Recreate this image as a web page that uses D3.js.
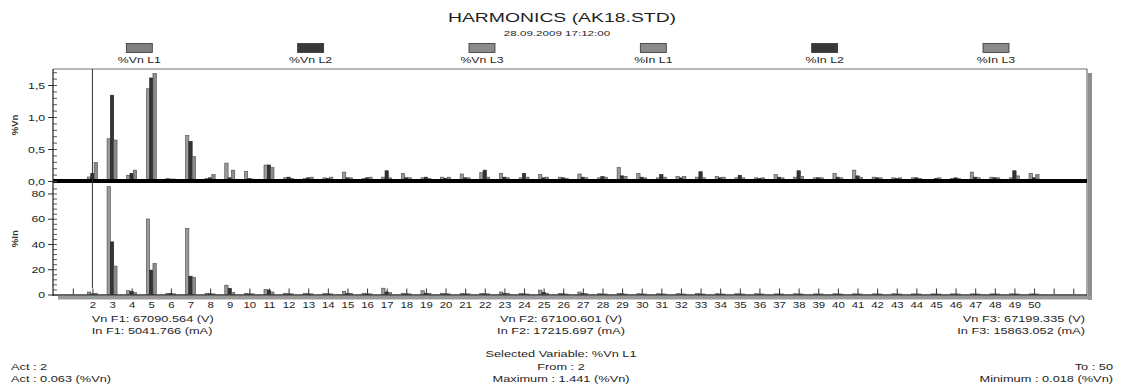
<!DOCTYPE html>
<html>
<head>
<meta charset="utf-8">
<script src="https://cdn.jsdelivr.net/npm/d3@7"></script>
<style>
  body { margin: 0; background: #fff; }
  svg { display: block; font-family: "Liberation Sans", Arial, sans-serif; }
</style>
</head>
<body>
<div class="chart"></div>
<script>
// harmonic order 2..50
let harmonics = [2,3,4,5,6,7,8,9,10,11,12,13,14,15,16,17,18,19,20,21,22,23,24,25,26,
  27,28,29,30,31,32,33,34,35,36,37,38,39,40,41,42,43,44,45,46,47,48,49,50];

let seriesNames = ['%Vn L1', '%Vn L2', '%Vn L3', '%In L1', '%In L2', '%In L3'];

let vnL1 = [0.063,0.66,0.09,1.441,0.04,0.71,0.04,0.28,0.15,0.25,0.05,0.04,0.05,0.14,0.04,0.06,0.12,
  0.05,0.06,0.11,0.13,0.12,0.05,0.10,0.06,0.11,0.05,0.21,0.12,0.05,0.07,0.06,0.07,0.05,0.05,0.10,
  0.06,0.05,0.12,0.17,0.06,0.05,0.05,0.018,0.04,0.14,0.06,0.05,0.12];
let vnL2 = [0.12,1.34,0.12,1.61,0.03,0.62,0.05,0.05,0.04,0.25,0.06,0.05,0.04,0.05,0.05,0.16,0.05,
  0.06,0.04,0.05,0.17,0.06,0.12,0.05,0.05,0.06,0.07,0.08,0.06,0.10,0.05,0.145,0.05,0.09,0.04,0.06,
  0.16,0.05,0.06,0.08,0.05,0.04,0.05,0.04,0.05,0.06,0.05,0.16,0.05];
let vnL3 = [0.29,0.64,0.17,1.68,0.03,0.38,0.10,0.17,0.03,0.21,0.04,0.06,0.06,0.05,0.06,0.05,0.05,
  0.04,0.06,0.05,0.06,0.05,0.06,0.06,0.04,0.05,0.06,0.07,0.05,0.06,0.07,0.05,0.06,0.05,0.05,0.05,
  0.07,0.05,0.05,0.06,0.05,0.05,0.04,0.05,0.04,0.05,0.05,0.08,0.10];

let inL1 = [2,85.4,3,59.8,1,52.4,1,7.4,1,4,1,1,0.8,2.5,1,5,1,3,1,1,0.8,2,0.8,3.5,0.8,2,0.6,0.8,
  0.6,0.6,0.6,0.8,0.6,0.6,0.6,0.5,0.6,0.5,0.6,0.5,0.5,0.6,0.5,0.5,0.5,0.5,0.5,0.5,0.5];
let inL2 = [0.5,41.7,2.5,19.3,0.8,14.5,0.6,4.8,0.5,3.5,0.5,0.5,0.5,0.8,0.5,2,0.5,1,0.5,0.5,0.5,0.8,
  0.5,1.5,0.5,0.8,0.4,0.5,0.4,0.4,0.4,0.4,0.4,0.4,0.4,0.4,0.4,0.4,0.4,0.4,0.4,0.4,0.4,0.4,0.4,0.4,
  0.4,0.4,0.4];
let inL3 = [1,22.5,1.5,24.6,0.5,13.5,0.5,1.5,0.5,2,0.5,0.5,0.5,1,0.5,1.5,0.5,1,0.5,0.5,0.5,1,0.4,1,
  0.4,0.6,0.4,0.4,0.4,0.4,0.4,0.4,0.4,0.4,0.4,0.4,0.4,0.4,0.4,0.4,0.4,0.4,0.4,0.4,0.4,0.4,0.4,0.4,0.4];

let vnTicks = [0, 0.5, 1, 1.5];
let inTicks = [0, 20, 40, 60, 80];
let actHarmonic = 2;

let W = 1128, H = 386;
let left = 53, right = 1087;

let svg = d3.select('.chart').append('svg')
  .attr('width', W)
  .attr('height', H);

let x = d3.scaleLinear().domain([0, 52.75]).range([53.2, 1088]);
let sub = d3.scaleBand().domain([0, 1, 2]).range([-5, 5]);
let yVn = d3.scaleLinear().domain([0, 1.75]).range([181, 69]);
let yIn = d3.scaleLinear().domain([0, 88.3]).range([294.5, 183]);

let fills = ['#9a9a9a', '#333333', '#8c8c8c'];
let strokes = ['#4a4a4a', '#222222', '#4a4a4a'];

// text is stretched wide in the source image
function txt(x0, y0, s, size, anchor, sx) {
  return svg.append('text')
    .attr('transform', `translate(${x0},${y0}) scale(${sx},1)`)
    .attr('text-anchor', anchor)
    .attr('font-size', size)
    .attr('fill', '#1e1e1e')
    .text(s);
}

// title
txt(562, 21.5, 'HARMONICS (AK18.STD)', 12.5, 'middle', 1.55);
txt(557, 36, '28.09.2009 17:12:00', 8, 'middle', 1.45);

// legend
let legendX = d3.scalePoint().domain(seriesNames).range([139.3, 996]);
let legendFills = ['#808080', '#383838', '#8a8a8a', '#8a8a8a', '#383838', '#8a8a8a'];
seriesNames.forEach((name, i) => {
  svg.append('rect')
    .attr('x', legendX(name) - 13).attr('y', 43.5)
    .attr('width', 26).attr('height', 9)
    .attr('fill', legendFills[i]).attr('stroke', '#333').attr('stroke-width', 0.8);
  txt(legendX(name), 63, name, 8.5, 'middle', 1.45);
});

// frame shadow
svg.append('rect').attr('x', right + 1).attr('y', 73).attr('width', 4).attr('height', 227).attr('fill', '#8e8e8e');
svg.append('rect').attr('x', 58).attr('y', 296).attr('width', right - 53).attr('height', 3.5).attr('fill', '#9a9a9a');

// bars
function drawBars(series, y) {
  let g = svg.append('g');
  series.forEach((vals, s) => {
    g.selectAll('rect.s' + s)
      .data(vals)
      .enter()
      .append('rect')
        .attr('class', 's' + s)
        .attr('x', (d, i) => x(harmonics[i]) + sub(s))
        .attr('y', d => y(d))
        .attr('width', sub.bandwidth())
        .attr('height', d => y(0) - y(d))
        .attr('fill', fills[s])
        .attr('stroke', strokes[s])
        .attr('stroke-width', 0.6);
  });
}
drawBars([vnL1, vnL2, vnL3], yVn);
drawBars([inL1, inL2, inL3], yIn);

// borders
svg.append('line').attr('x1', left).attr('x2', right).attr('y1', 69).attr('y2', 69)
  .attr('stroke', '#a0a0a0').attr('stroke-width', 1.5);
svg.append('line').attr('x1', right).attr('x2', right).attr('y1', 69).attr('y2', 296)
  .attr('stroke', '#555').attr('stroke-width', 1);
svg.append('line').attr('x1', left).attr('x2', right).attr('y1', yIn(0) + 0.5).attr('y2', yIn(0) + 0.5)
  .attr('stroke', '#333').attr('stroke-width', 1.5);

// inner x ticks on bottom panel
svg.append('g')
  .attr('transform', `translate(0, ${yIn(0)})`)
  .call(d3.axisTop(x).tickValues(d3.range(1, 53)).tickSize(6).tickFormat(''))
  .call(g => g.select('.domain').remove())
  .selectAll('line').attr('stroke', '#333');

// x labels
svg.append('g')
  .attr('transform', 'translate(0, 308)')
  .call(d3.axisBottom(x).tickValues(harmonics).tickSize(0))
  .call(g => g.select('.domain').remove())
  .selectAll('text')
    .attr('y', 0).attr('dy', 0)
    .attr('font-size', 9.5)
    .attr('font-family', '"Liberation Sans", Arial, sans-serif')
    .attr('fill', '#1e1e1e')
    .attr('transform', 'scale(1.2,1)');

// separator / zero line of top panel
svg.append('line').attr('x1', left).attr('x2', right).attr('y1', yVn(0)).attr('y2', yVn(0))
  .attr('stroke', '#000').attr('stroke-width', 4);

// y axes
function yAxis(y, ticks, minor, fmt) {
  svg.append('g')
    .attr('transform', `translate(${left}, 0)`)
    .call(d3.axisRight(y).tickValues(minor).tickSize(4).tickFormat(''))
    .call(g => g.select('.domain').remove())
    .selectAll('line').attr('stroke', '#555');
  svg.append('g')
    .attr('transform', `translate(${left}, 0)`)
    .call(d3.axisLeft(y).tickValues(ticks).tickSize(5).tickPadding(1).tickFormat(fmt))
    .call(g => g.select('.domain').remove())
    .call(g => g.selectAll('line').attr('stroke', '#333'))
    .selectAll('text')
      .attr('font-size', 9.5)
      .attr('font-family', '"Liberation Sans", Arial, sans-serif')
      .attr('fill', '#1e1e1e')
      .attr('transform', 'scale(1.3,1)');
}
yAxis(yVn, vnTicks, d3.range(0, 1.75, 0.1), d => d.toFixed(1).replace('.', ','));
yAxis(yIn, inTicks, d3.range(0, 88, 4), d => d);

svg.append('line').attr('x1', left).attr('x2', left).attr('y1', 69).attr('y2', 296)
  .attr('stroke', '#222').attr('stroke-width', 1.2);

// axis titles
svg.append('text').attr('transform', `translate(18, ${(yVn.range()[0] + yVn.range()[1]) / 2}) rotate(-90)`)
  .attr('text-anchor', 'middle').attr('font-size', 9.5).attr('font-weight', 'bold').attr('fill', '#333').text('%Vn');
svg.append('text').attr('transform', `translate(18, ${(yIn.range()[0] + yIn.range()[1]) / 2}) rotate(-90)`)
  .attr('text-anchor', 'middle').attr('font-size', 9.5).attr('font-weight', 'bold').attr('fill', '#333').text('%In');

// cursor at selected harmonic
svg.append('line').attr('x1', x(actHarmonic)).attr('x2', x(actHarmonic)).attr('y1', 69).attr('y2', 288)
  .attr('stroke', '#333').attr('stroke-width', 1);

// footer texts
txt(91.7, 322, 'Vn F1: 67090.564 (V)', 9, 'start', 1.42);
txt(91.7, 334, 'In F1: 5041.766 (mA)', 9, 'start', 1.42);
txt(561, 322, 'Vn F2: 67100.601 (V)', 9, 'middle', 1.42);
txt(561, 334, 'In F2: 17215.697 (mA)', 9, 'middle', 1.42);
txt(1085, 322, 'Vn F3: 67199.335 (V)', 9, 'end', 1.42);
txt(1085, 334, 'In F3: 15863.052 (mA)', 9, 'end', 1.42);

txt(561, 357, 'Selected Variable: %Vn L1', 9, 'middle', 1.42);
txt(561, 370, 'From : 2', 9, 'middle', 1.42);
txt(561, 382, 'Maximum : 1.441 (%Vn)', 9, 'middle', 1.42);
txt(11, 370, 'Act : 2', 9, 'start', 1.42);
txt(11, 382, 'Act : 0.063 (%Vn)', 9, 'start', 1.42);
txt(1113, 370, 'To : 50', 9, 'end', 1.42);
txt(1113, 382, 'Minimum : 0.018 (%Vn)', 9, 'end', 1.42);
</script>
</body>
</html>
